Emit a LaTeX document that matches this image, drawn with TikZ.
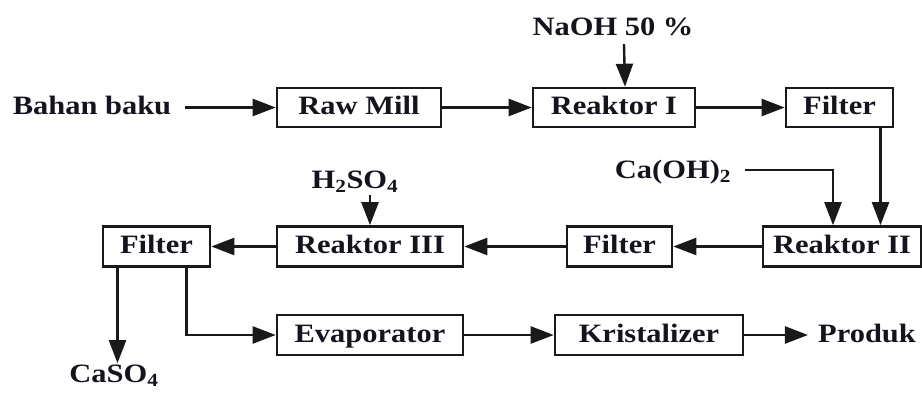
\documentclass[tikz,border=0pt]{standalone}
\usepackage{fontspec}
\setmainfont[FakeStretch=1.15]{Liberation Serif}
\usepackage{xcolor}
\usepackage{tikz}
\usetikzlibrary{arrows.meta,positioning}
\definecolor{pfline}{RGB}{25,25,25}
\definecolor{pftext}{RGB}{20,20,30}

\begin{document}
\begin{tikzpicture}[
  x=1pt, y=-1pt,
  unit/.style={draw=pfline, line width=2.6pt, fill=white, minimum height=39pt, inner sep=2pt, text height=19pt, text depth=4pt, font=\fontsize{26.5}{30}\selectfont\bfseries, text=pftext},
  lbl/.style={inner sep=2pt, font=\fontsize{26.5}{30}\selectfont\bfseries, text=pftext},
  arr/.style={-{Triangle[length=23pt,width=17pt]}, line width=2.4pt, pfline}
]
\useasboundingbox (0,0) rectangle (922,393);
% top row
\node[lbl] (bahan) at (92,105) {Bahan baku};
\node[unit, minimum width=164pt] (rawmill) at (359,107.5) {Raw Mill};
\node[unit, minimum width=162pt] (reak1) at (614,107.5) {Reaktor I};
\node[unit, minimum width=107pt] (filt1) at (839.5,107.5) {Filter};
\node[lbl] (naoh) at (613,27) {NaOH 50 \%};
% middle row
\node[lbl] (caoh) at (673,172) {Ca(OH)\textsubscript{2}};
\node[lbl] (hso) at (355,182) {H\textsubscript{2}SO\textsubscript{4}};
\node[unit, minimum width=158pt, minimum height=40pt] (reak2) at (842,246.5) {Reaktor II};
\node[unit, minimum width=105pt, minimum height=40pt] (filt2) at (619.5,246.5) {Filter};
\node[unit, minimum width=186pt, minimum height=40pt] (reak3) at (370,246.5) {Reaktor III};
\node[unit, minimum width=107pt, minimum height=40pt] (filt3) at (156.5,246.5) {Filter};
% bottom row
\node[unit, minimum width=186pt, minimum height=40pt] (evap) at (370,335) {Evaporator};
\node[unit, minimum width=188pt, minimum height=40pt] (krist) at (649,335) {Kristalizer};
\node[lbl] (produk) at (867,333) {Produk};
\node[lbl] (caso) at (114,376) {CaSO\textsubscript{4}};

\draw[arr] ([xshift=12pt]bahan.east |- rawmill.west) -- (rawmill.west);
\draw[arr] (rawmill) -- (reak1);
\draw[arr] (reak1) -- (filt1);
\draw[arr] ([xshift=11pt]naoh.south) ++(0,6) -- ([xshift=11pt]reak1.north);
\draw[arr] ([xshift=41pt]filt1.south) -- ([xshift=41pt]filt1.south |- reak2.north);
\draw[arr] ([xshift=12pt,yshift=2pt]caoh.east) -| ([xshift=-9pt]reak2.north);
\draw[arr] (reak2) -- (filt2);
\draw[arr] (filt2) -- (reak3);
\draw[arr] (reak3) -- (filt3);
\draw[arr] ([xshift=15pt]hso.south) -- (reak3.north);
\draw[arr] ([xshift=-39pt]filt3.south) -- ([xshift=-39pt]filt3.south |- caso.north);
\draw[arr] ([xshift=30pt]filt3.south) |- (evap.west);
\draw[arr] (evap) -- (krist);
\draw[arr] (krist.east) -- ([xshift=-8pt]produk.west |- krist.east);
\end{tikzpicture}
\end{document}
